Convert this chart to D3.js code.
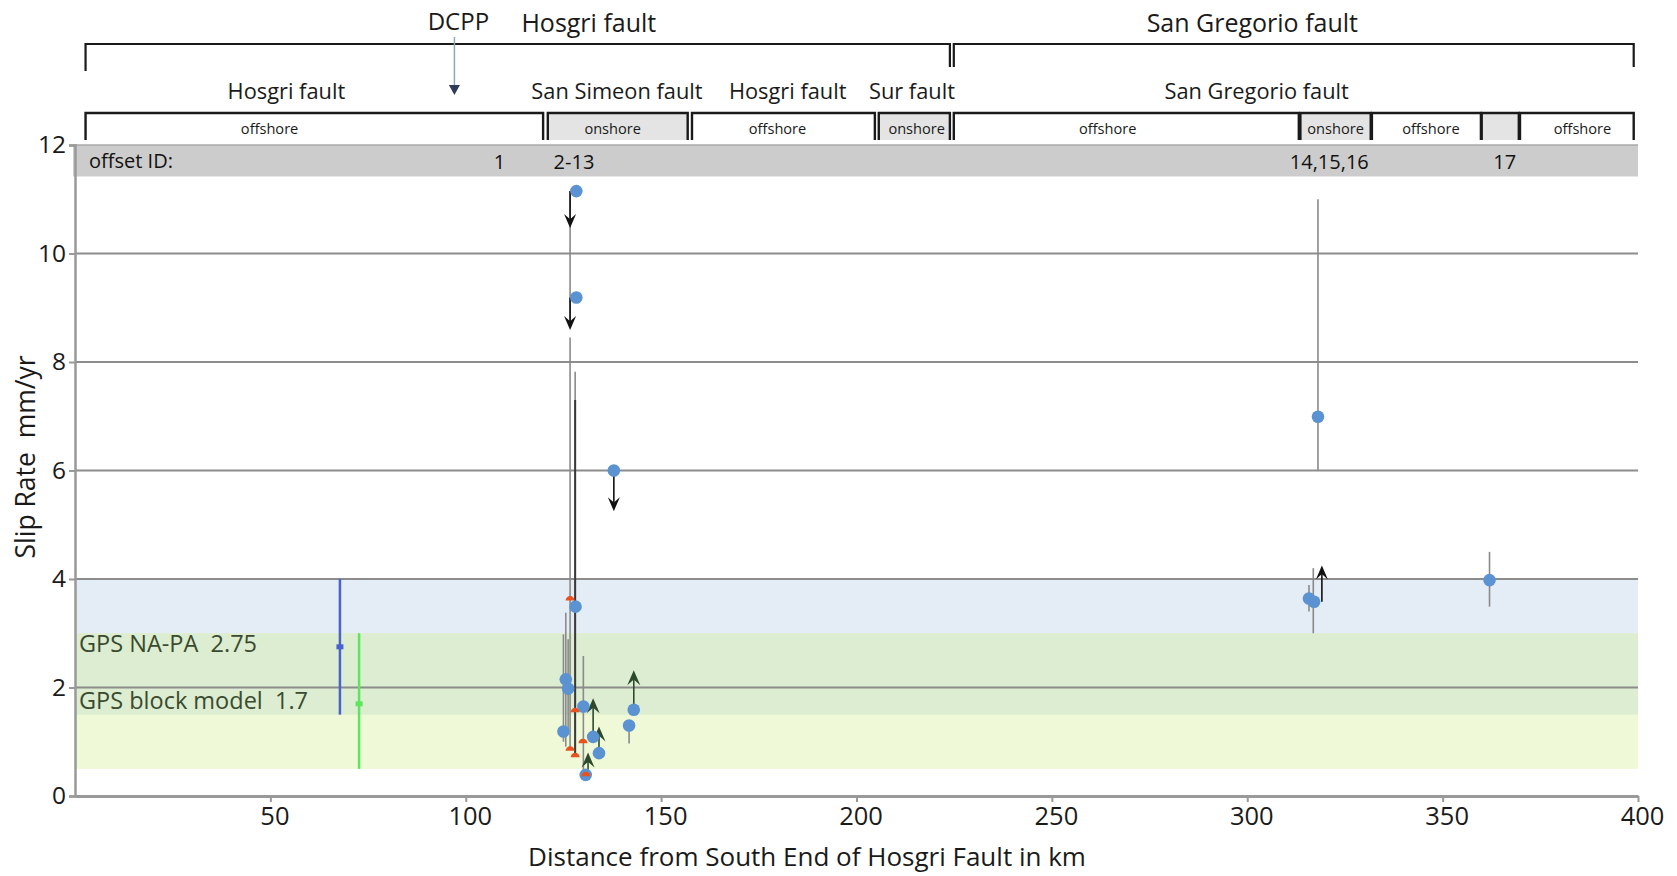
<!DOCTYPE html>
<html><head><meta charset="utf-8">
<script src="https://cdn.jsdelivr.net/npm/d3@7"></script>
<style>body{margin:0;background:#fff}svg{display:block;font-family:"Open Sans",sans-serif}</style>
</head><body><svg id="c" width="1677" height="876"></svg>
<script>
// ---------- data ----------
const xTicks = [50,100,150,200,250,300,350,400];
const yTicks = [0,2,4,6,8,10,12];

const topFaultNames = ["Hosgri fault","San Gregorio fault"];
const topFaultStart = [2.7, 224.9];
const topFaultEnd   = [223.9, 398.9];
const topFaultLabelKm = [131.5, 301.3];

const subFaultNames = ["Hosgri fault","San Simeon fault","Hosgri fault","Sur fault","San Gregorio fault"];
const subFaultKm    = [54.1, 138.7, 182.4, 214.2, 302.4];

const segType    = ["offshore","onshore","offshore","onshore","offshore","onshore","offshore","","offshore"];
const segStart   = [2.7, 121.0, 157.9, 205.7, 224.9, 313.6, 331.9, 360.0, 369.8];
const segEnd     = [119.8, 156.8, 204.7, 223.9, 313.2, 331.6, 359.8, 369.5, 398.9];
const segLabelKm = [49.8, 137.6, 179.8, 215.4, 264.3, 322.6, 347.0, 364.7, 385.8];

const dcppKm = 97.1;

const offsetIds   = ["1","2-13","14,15,16","17"];
const offsetIdKm  = [108.6, 127.7, 321.0, 365.9];

const gpsNames = ["GPS NA-PA","GPS block model"];
const gpsRate  = [2.75, 1.7];
const gpsLo    = [1.5, 0.5];
const gpsHi    = [4.0, 3.0];
const gpsKm    = [67.8, 72.7];

const pointKm   = [128.3,128.3,137.9,128.1,125.6,126.2,125.0,130.1,132.6,134.1,130.7,143.0,141.8,318.1,315.8,317.1,362.0];
const pointRate = [11.15,9.19,6.0,3.49,2.15,1.98,1.19,1.65,1.09,0.79,0.39,1.59,1.30,6.99,3.64,3.58,3.98];

const grayBarKm = [126.7,126.7,128.0,125.0,125.6,126.2,130.1,141.8,318.1,315.8,316.9,362.0];
const grayBarLo = [8.65,0.85,0.74,1.0,0.91,1.2,0.4,0.97,6.0,3.40,3.0,3.49];
const grayBarHi = [11.15,8.45,7.82,2.98,3.38,2.89,2.58,1.30,11.0,3.89,4.2,4.5];

const darkBarKm = [128.0];
const darkBarLo = [0.74];
const darkBarHi = [7.3];

const blackArrowKm   = [126.7,126.7,137.9,319.1];
const blackArrowFrom = [11.15,9.19,6.0,3.58];
const blackArrowTo   = [10.47,8.59,5.25,4.25];

const greenArrowKm   = [132.6,134.1,131.3,143.0];
const greenArrowFrom = [1.09,0.79,0.39,1.59];
const greenArrowTo   = [1.80,1.28,0.80,2.32];

const orangeKm   = [126.7,128.0,130.0,126.7,128.0,130.7];
const orangeRate = [3.63,1.57,1.0,0.86,0.74,0.39];

// ---------- drawing ----------
const svg = d3.select("#c");
const x = d3.scaleLinear().domain([0,400]).range([75,1638]);
const y = d3.scaleLinear().domain([0,12]).range([796,145]);
const X0 = x(0), X1 = x(400);

// GPS bands
const bandBlue = "#e4ecf5", bandGreen = "#eff9d7", bandBoth = "#dcedd1";
svg.append("rect").attr("x",X0).attr("width",X1-X0)
  .attr("y",y(gpsHi[0])).attr("height",y(gpsLo[0])-y(gpsHi[0])).attr("fill",bandBlue);
svg.append("rect").attr("x",X0).attr("width",X1-X0)
  .attr("y",y(gpsHi[1])).attr("height",y(gpsLo[1])-y(gpsHi[1])).attr("fill",bandGreen);
const ovLo = Math.max(gpsLo[0],gpsLo[1]), ovHi = Math.min(gpsHi[0],gpsHi[1]);
svg.append("rect").attr("x",X0).attr("width",X1-X0)
  .attr("y",y(ovHi)).attr("height",y(ovLo)-y(ovHi)).attr("fill",bandBoth);

// gridlines
svg.append("g").selectAll("line").data(yTicks.filter(d=>d>0&&d<12)).join("line")
  .attr("x1",X0).attr("x2",X1).attr("y1",d=>y(d)).attr("y2",d=>y(d))
  .attr("stroke","#8c8c8c").attr("stroke-width",2);

// offset ID band
const idTop = y(12), idBot = y(11.42);
svg.append("rect").attr("x",X0-2).attr("width",X1-X0+2).attr("y",idTop).attr("height",idBot-idTop).attr("fill","#cccccc");
svg.append("line").attr("x1",X0-2).attr("x2",X1).attr("y1",idTop).attr("y2",idTop).attr("stroke","#aaa").attr("stroke-width",1.5);
svg.append("text").attr("x",X0+14).attr("y",(idTop+idBot)/2).attr("dy","0.35em")
  .attr("font-size",20).attr("fill","#111").text("offset ID:");
svg.append("g").selectAll("text").data(offsetIds).join("text")
  .attr("x",(d,i)=>x(offsetIdKm[i])).attr("y",(idTop+idBot)/2+1).attr("dy","0.35em")
  .attr("text-anchor","middle").attr("font-size",20).attr("fill","#111").text(d=>d);

// axes
const yAxis = d3.axisLeft(y).tickValues(yTicks).tickSize(6).tickPadding(3);
const gy = svg.append("g").attr("transform",`translate(${X0},0)`).call(yAxis);
gy.select(".domain").attr("stroke","#999").attr("stroke-width",2.5);
gy.selectAll(".tick line").attr("stroke","#999").attr("stroke-width",2);
gy.selectAll(".tick text").attr("font-size",24.5).attr("fill","#1a1a1a").attr("font-family","Open Sans");

const xAxis = d3.axisBottom(x).tickValues(xTicks).tickSize(6).tickPadding(5).tickSizeOuter(0);
const gx = svg.append("g").attr("transform",`translate(0,${y(0)})`).call(xAxis);
gx.select(".domain").attr("stroke","#999").attr("stroke-width",3);
gx.selectAll(".tick line").attr("stroke","#999").attr("stroke-width",2);
gx.selectAll(".tick text").attr("font-size",25.5).attr("dx",4).attr("fill","#1a1a1a").attr("font-family","Open Sans");

svg.append("text").attr("x",807).attr("y",866).attr("text-anchor","middle")
  .attr("font-size",26).attr("fill","#1a1a1a").text("Distance from South End of Hosgri Fault in km");
svg.append("text").attr("transform","translate(35,457) rotate(-90)").attr("text-anchor","middle")
  .attr("font-size",26.5).attr("fill","#1a1a1a").style("white-space","pre")
  .text("Slip Rate  mm/yr");

// header: top faults
const hdr = svg.append("g").attr("stroke","#1a1a1a").attr("fill","none");
topFaultNames.forEach((n,i)=>{
  const a = x(topFaultStart[i]), b = x(topFaultEnd[i]);
  hdr.append("path").attr("d",`M${a},${i===0?71:67}V44H${b}V67`).attr("stroke-width",2.2);
});
svg.append("g").selectAll("text").data(topFaultNames).join("text")
  .attr("x",(d,i)=>x(topFaultLabelKm[i])).attr("y",32).attr("text-anchor","middle")
  .attr("font-size",25).attr("fill","#1a1a1a").text(d=>d);

// DCPP
svg.append("text").attr("x",x(dcppKm)+4).attr("y",30).attr("text-anchor","middle")
  .attr("font-size",24).attr("fill","#1a1a1a").text("DCPP");
svg.append("line").attr("x1",x(dcppKm)).attr("x2",x(dcppKm)).attr("y1",37).attr("y2",88)
  .attr("stroke","#8ea8bb").attr("stroke-width",1.5);
svg.append("path").attr("d",`M${x(dcppKm)-5.5},85L${x(dcppKm)+5.5},85L${x(dcppKm)},95Z`).attr("fill","#2e3b5c");

// sub faults
svg.append("g").selectAll("text").data(subFaultNames).join("text")
  .attr("x",(d,i)=>x(subFaultKm[i])).attr("y",99).attr("text-anchor","middle")
  .attr("font-size",21.8).attr("fill","#1a1a1a").text(d=>d);

// segments
const seg = svg.append("g");
segType.forEach((t,i)=>{
  const a = x(segStart[i]), b = x(segEnd[i]);
  if(t!=="offshore") seg.append("rect").attr("x",a).attr("width",b-a).attr("y",113).attr("height",27).attr("fill","#e4e4e4");
  seg.append("path").attr("d",`M${a},140V113H${b}V140`).attr("fill","none").attr("stroke","#1a1a1a").attr("stroke-width",2.4);
  if(t) seg.append("text").attr("x",x(segLabelKm[i])).attr("y",134).attr("text-anchor","middle")
    .attr("font-size",14.6).attr("fill","#1a1a1a").text(t);
});

// GPS bars & labels
const gpsColor = ["#4a62d0","#5ce65c"];
gpsNames.forEach((n,i)=>{
  svg.append("line").attr("x1",x(gpsKm[i])).attr("x2",x(gpsKm[i])).attr("y1",y(gpsHi[i])).attr("y2",y(gpsLo[i]))
    .attr("stroke",gpsColor[i]).attr("stroke-width",2.5);
  svg.append("rect").attr("x",x(gpsKm[i])-3.5).attr("y",y(gpsRate[i])-2.5).attr("width",7).attr("height",5).attr("fill",gpsColor[i]);
  svg.append("text").attr("x",X0+4).attr("y",y(gpsRate[i])-3).attr("dy","0.35em")
    .attr("font-size",23.5).attr("fill","#3a4a2e").style("white-space","pre").text(n+"  "+gpsRate[i]);
});

// error bars
svg.append("g").selectAll("line").data(grayBarKm).join("line")
  .attr("x1",d=>x(d)).attr("x2",d=>x(d)).attr("y1",(d,i)=>y(grayBarHi[i])).attr("y2",(d,i)=>y(grayBarLo[i]))
  .attr("stroke","#8a8a8a").attr("stroke-width",1.6);
svg.append("g").selectAll("line").data(darkBarKm).join("line")
  .attr("x1",d=>x(d)).attr("x2",d=>x(d)).attr("y1",(d,i)=>y(darkBarHi[i])).attr("y2",(d,i)=>y(darkBarLo[i]))
  .attr("stroke","#3a3a3a").attr("stroke-width",2);

// arrows
function arrow(g, xs, from, to, col, w, hw, hl){
  xs.forEach((k,i)=>{
    const px = x(k), y0 = y(from[i]), y1 = y(to[i]);
    const dir = y1 < y0 ? 1 : -1; // 1 = pointing up
    g.append("line").attr("x1",px).attr("x2",px).attr("y1",y0).attr("y2",y1+dir*hl*0.6)
      .attr("stroke",col).attr("stroke-width",w);
    g.append("path").attr("d",`M${px},${y1}L${px+hw},${y1+dir*hl}L${px},${y1+dir*hl*0.62}L${px-hw},${y1+dir*hl}Z`).attr("fill",col);
  });
}
const ga = svg.append("g");
arrow(ga, blackArrowKm, blackArrowFrom, blackArrowTo, "#111", 1.6, 6, 14);
arrow(ga, greenArrowKm, greenArrowFrom, greenArrowTo, "#2d4a2d", 1.6, 6.5, 15);

// points
svg.append("g").selectAll("circle").data(pointKm).join("circle")
  .attr("cx",d=>x(d)).attr("cy",(d,i)=>y(pointRate[i])).attr("r",6.3).attr("fill","#5b92d2");

// orange markers
svg.append("g").selectAll("path").data(orangeKm).join("path")
  .attr("d",(d,i)=>{const px=x(d), py=y(orangeRate[i]); return `M${px-4.5},${py+1.5}A4.5,4.5 0 0 1 ${px+4.5},${py+1.5}Z`;})
  .attr("fill","#e8521e");
</script></body></html>
